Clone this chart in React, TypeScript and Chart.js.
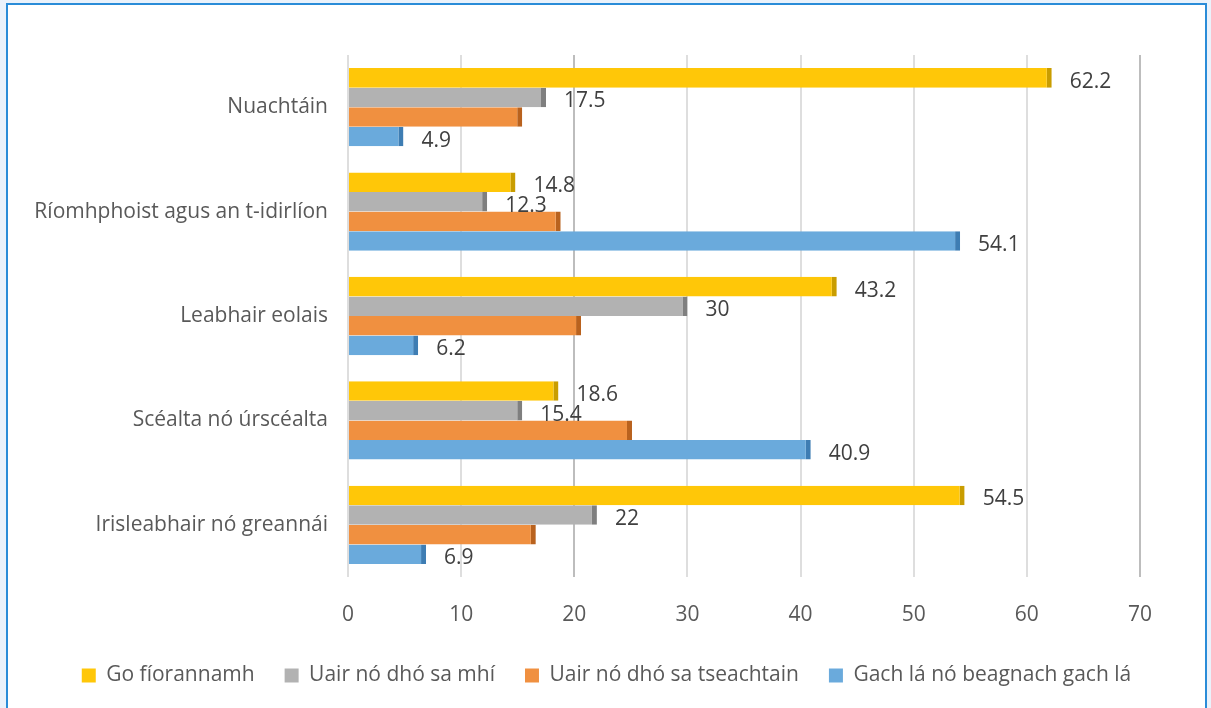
import React, { useEffect, useRef } from "react";
import { Chart, registerables } from "chart.js";

Chart.register(...registerables);

const categories = [
  "Nuachtáin",
  "Ríomhphoist agus an t-idirlíon",
  "Leabhair eolais",
  "Scéalta nó úrscéalta",
  "Irisleabhair nó greannái",
];

const seriesNames = [
  "Go fíorannamh",
  "Uair nó dhó sa mhí",
  "Uair nó dhó sa tseachtain",
  "Gach lá nó beagnach gach lá",
];

const goFiorannamh = [62.2, 14.8, 43.2, 18.6, 54.5];
const uairSaMhi = [17.5, 12.3, 30, 15.4, 22];
const uairSaTseachtain = [15.4, 18.8, 20.6, 25.1, 16.6];
const gachLa = [4.9, 54.1, 6.2, 40.9, 6.9];

// which series show their value labels
const showLabels = [true, true, false, true];

const xTicks = [0, 10, 20, 30, 40, 50, 60, 70];

const fillColors = ["#FFC708", "#B2B2B2", "#F09040", "#6AAADC"];
const sideColors = ["#C99D00", "#7F7F7F", "#B9621E", "#3E7DB3"];

const FONT = "'Open Sans', sans-serif";
const FS = 21;

const valueLabelPlugin = {
  id: "valueLabels",
  afterDatasetsDraw(chart: any) {
    const ctx = chart.ctx;
    ctx.save();
    ctx.font = `${FS}px ${FONT}`;
    ctx.fillStyle = "#404040";
    ctx.textAlign = "left";
    ctx.textBaseline = "middle";
    chart.data.datasets.forEach((ds: any, di: number) => {
      if (!showLabels[di]) return;
      const meta = chart.getDatasetMeta(di);
      meta.data.forEach((bar: any, i: number) => {
        const v = ds.data[i];
        ctx.fillText(String(v), bar.x + 18, bar.y + 4);
      });
    });
    ctx.restore();
  },
};

export default function App() {
  const ref = useRef<HTMLCanvasElement | null>(null);

  useEffect(() => {
    if (!ref.current) return;
    const seriesData = [goFiorannamh, uairSaMhi, uairSaTseachtain, gachLa];
    const chart = new Chart(ref.current, {
      type: "bar",
      data: {
        labels: categories,
        datasets: seriesNames.map((name, i) => ({
          label: name,
          data: seriesData[i],
          backgroundColor: fillColors[i],
          borderColor: sideColors[i],
          borderWidth: { top: 0, bottom: 0, left: 0, right: 5 },
          borderSkipped: false,
          categoryPercentage: 0.75,
          barPercentage: 1,
          yAxisID: "y",
        })),
      },
      options: {
        indexAxis: "y",
        responsive: false,
        animation: false,
        layout: { padding: { top: 50, right: 0, left: 0, bottom: 12 } },
        scales: {
          x: {
            min: 0,
            max: 70,
            afterBuildTicks: (scale: any) => {
              scale.ticks = xTicks.map((v) => ({ value: v }));
            },
            afterFit: (scale: any) => {
              scale.height = 58;
            },
            grid: {
              drawTicks: false,
              lineWidth: 2,
              color: (c: any) =>
                c.tick && (c.tick.value === 20 || c.tick.value === 70)
                  ? "#BDBDBD"
                  : "#DEDEDE",
            },
            border: { display: false },
            ticks: {
              padding: 25,
              color: "#595959",
              font: { family: FONT, size: FS },
            },
          },
          y: {
            afterFit: (scale: any) => {
              scale.width = 340;
            },
            grid: { display: false, drawTicks: false },
            border: { display: false },
            ticks: {
              padding: 20,
              color: "#595959",
              font: { family: FONT, size: FS },
            },
          },
          yRight: {
            type: "category",
            position: "right",
            afterFit: (scale: any) => {
              scale.width = 65;
            },
            grid: { display: false, drawTicks: false },
            border: { display: false },
            ticks: { display: false },
          },
        },
        plugins: {
          legend: {
            position: "bottom",
            labels: {
              boxWidth: 14,
              boxHeight: 14,
              padding: 30,
              color: "#595959",
              font: { family: FONT, size: FS },
              generateLabels: (chart: any) =>
                chart.data.datasets.map((ds: any, i: number) => ({
                  text: ds.label,
                  fillStyle: fillColors[i],
                  strokeStyle: fillColors[i],
                  lineWidth: 0,
                  fontColor: "#595959",
                  datasetIndex: i,
                  hidden: false,
                })),
            },
          },
          tooltip: { enabled: false },
        },
      },
      plugins: [valueLabelPlugin],
    } as any);
    return () => chart.destroy();
  }, []);

  return (
    <div
      style={{
        position: "fixed",
        left: 0,
        top: 0,
        width: 1211,
        height: 708,
        background: "#EAF2FB",
        overflow: "hidden",
      }}
    >
      <div
        style={{
          position: "absolute",
          left: 6,
          top: 3,
          width: 1201,
          height: 730,
          boxSizing: "border-box",
          border: "2px solid #2A8CD8",
          background: "#FFFFFF",
        }}
      >
        <canvas ref={ref} width={1197} height={703} style={{ display: "block" }} />
      </div>
    </div>
  );
}
